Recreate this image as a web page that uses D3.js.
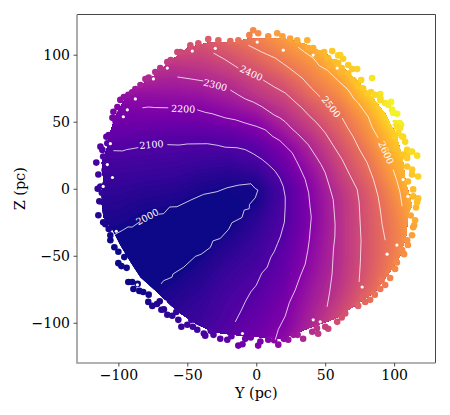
<!DOCTYPE html>
<html>
<head>
<meta charset="utf-8">
<script src="https://cdn.jsdelivr.net/npm/d3@7"></script>
<style>
  body { margin: 0; background: #fff; }
  text { font-family: "DejaVu Serif", serif; }
</style>
</head>
<body>
<script>
// distance (pc): columns are Y, rows are Z
const gridY = [-120, -100, -80, -60, -40, -20, 0, 20, 40, 60, 80, 100, 120];
const gridZ = [120, 110, 100, 90, 80, 70, 60, 50, 40, 30, 20, 10, 0, -10, -20, -30, -40, -50, -60, -70, -80, -90, -100, -110, -120];
const gridValues = [
  2400, 2400, 2420, 2450, 2480, 2520, 2570, 2640, 2700, 2750, 2770, 2790, 2800,
  2380, 2390, 2400, 2420, 2430, 2475, 2530, 2590, 2650, 2730, 2760, 2790, 2800,
  2360, 2370, 2375, 2380, 2385, 2425, 2480, 2545, 2610, 2710, 2750, 2790, 2800,
  2330, 2330, 2330, 2325, 2340, 2375, 2430, 2500, 2565, 2660, 2740, 2790, 2800,
  2280, 2285, 2290, 2280, 2295, 2325, 2380, 2440, 2530, 2605, 2730, 2790, 2800,
  2230, 2235, 2235, 2240, 2250, 2280, 2340, 2390, 2485, 2565, 2690, 2790, 2800,
  2190, 2190, 2200, 2200, 2205, 2235, 2275, 2345, 2430, 2515, 2640, 2780, 2800,
  2160, 2165, 2165, 2160, 2165, 2190, 2215, 2300, 2385, 2480, 2595, 2750, 2800,
  2130, 2135, 2125, 2120, 2120, 2130, 2170, 2245, 2340, 2445, 2565, 2700, 2780,
  2100, 2103, 2097, 2095, 2090, 2095, 2115, 2190, 2300, 2410, 2530, 2670, 2760,
  2080, 2080, 2075, 2070, 2060, 2055, 2080, 2160, 2265, 2385, 2500, 2635, 2740,
  2060, 2060, 2055, 2050, 2035, 2025, 2040, 2125, 2235, 2360, 2475, 2610, 2720,
  2045, 2045, 2035, 2030, 2010, 2000, 2005, 2095, 2215, 2335, 2445, 2580, 2710,
  2030, 2030, 2015, 2010, 1990, 1985, 2005, 2095, 2205, 2320, 2430, 2555, 2690,
  2020, 2015, 2000, 1990, 1975, 1985, 2030, 2098, 2200, 2320, 2425, 2540, 2670,
  2005, 2003, 1980, 1970, 1975, 1998, 2045, 2105, 2205, 2320, 2425, 2530, 2650,
  1995, 1992, 1965, 1960, 1985, 2020, 2060, 2115, 2215, 2320, 2425, 2530, 2640,
  1990, 1985, 1960, 1965, 2000, 2040, 2070, 2130, 2225, 2320, 2425, 2535, 2640,
  1990, 1985, 1970, 1985, 2018, 2058, 2085, 2140, 2235, 2325, 2430, 2550, 2650,
  1990, 1990, 1985, 2005, 2032, 2070, 2100, 2155, 2250, 2335, 2445, 2560, 2660,
  2000, 2000, 2000, 2020, 2045, 2085, 2115, 2170, 2265, 2350, 2470, 2580, 2670,
  2010, 2010, 2015, 2035, 2055, 2095, 2130, 2185, 2280, 2380, 2490, 2600, 2680,
  2020, 2025, 2030, 2050, 2065, 2105, 2145, 2195, 2295, 2410, 2520, 2620, 2690,
  2030, 2040, 2045, 2060, 2080, 2120, 2165, 2215, 2320, 2440, 2540, 2640, 2700,
  2040, 2050, 2060, 2075, 2095, 2140, 2185, 2240, 2345, 2460, 2560, 2650, 2710
];

// the solid part of the cloud
const cloudOutline = [
  [-6, 112], [6.5, 112], [21, 112], [35.5, 108], [50, 101], [62, 91], [73, 81], [84, 68.5], [93.5, 56], [100.7, 42], [106, 24],
  [108, 7], [113, -13], [110, -19], [109, -34], [104, -51], [95.6, -64], [86, -77], [72, -87], [57, -97], [35.5, -105],
  [19, -112], [-1, -110.5], [-17, -109], [-31, -107], [-43, -101], [-55, -93], [-62, -87], [-72, -77], [-84, -66],
  [-91, -55], [-98.6, -42], [-104, -31], [-111, -21], [-112, -6], [-111, 7], [-112, 19.5], [-108, 31], [-106, 42], [-102, 54],
  [-97, 64], [-86, 75], [-72, 86], [-60, 97], [-50, 105], [-34.8, 109], [-17, 109]
];

// stars standing out around the rim
const rimStars = [
  [-34.8, 111.6], [-27.5, 110.8], [-42, 108.6], [-47.8, 107.1], [-57.2, 102], [-64.5, 94.5], [-73.2, 87.1], [-80.4, 81.9],
  [-87.7, 74.4], [-92.8, 70], [-98.6, 66.3], [-103.6, 57.4], [-104.3, 52.9], [-108.7, 38.8], [-113, 31.4], [-116, 19.5],
  [-114.5, 10.6], [-115, 0], [-113.8, -9.4], [-114.5, -19.8], [-109.4, -26.5], [-105.8, -34.7], [-105.8, -38.4],
  [-102.9, -43.6], [-95.7, -51], [-100, -55.5], [-97.8, -57.7], [-92.8, -69.6], [-89.1, -74.8], [-84.8, -76.2],
  [-78.3, -84.4], [-75.4, -87.4], [-68.8, -90.3], [-64.5, -94], [-60.9, -94.8], [-56.5, -97.8], [-54.3, -103],
  [-47.1, -97.8], [-42.8, -105.2], [-37, -109.6], [-26.1, -111.9], [-21, -112.6], [-13, -117], [-8, -112], [1.4, -117],
  [8.7, -112.6], [16, -116.3], [23.2, -112.6], [34, -111.9], [44.9, -108.2], [52.2, -104.5], [58.7, -99.3], [73.9, -87.4],
  [82.6, -82.9], [89.9, -74.8], [97.1, -66.6], [100.7, -59.9], [107.2, -48.8], [102.9, -42.1], [113, -34.7], [114.5, -27.2],
  [115.2, -23.5], [115.9, -13.9], [117.4, -7.2], [113.8, -0.5], [117.4, 9.1], [113, 10.6], [116.7, 24.7], [110.1, 26.9],
  [108, 35.1], [106.5, 38.8], [105, 47.7], [102.2, 55.9], [97.8, 64.8], [89.9, 70.7], [83.3, 72.2], [84, 82.6], [76.1, 81.1],
  [73.2, 89.3], [69.6, 89.3], [60.9, 99.7], [55.1, 102.7], [49.3, 102], [37, 110.8], [29.7, 110.8], [15.2, 116], [8.7, 113.8],
  [-2.2, 118.3], [-5, 114.6], [-13, 110.8], [-18.8, 110.1],
  [59.4, 93.8], [52, 97.5], [45, 101], [37.7, 105], [24.6, 112], [19, 113.8], [1.4, 116], [73.9, 76.7], [81, 71], [90, 67.6],
  [93.5, 64], [98.5, 59], [100.7, 49], [104.3, 45.4], [103, 41.6], [108, 24], [109.4, 16.6], [113, 14.3], [110, 5.4],
  [113.8, -5.7], [116.7, -10], [-111, 24], [-111.6, 29], [-107, 40], [-102, 50], [-100.7, 61], [-96, 68.5], [-90, 72],
  [-84, 77.4], [-78, 83], [-69.6, 90], [-62, 96], [-55, 102], [-113, 1.7], [-111, -10], [-111, -25], [-90, -69.6],
  [-82, -77], [-72, -86], [-67, -90], [-50, -101.5], [-38, -108], [-31, -109], [-10, -116], [3, -114], [20, -112],
  [30, -109], [40.6, -106.7], [50, -103], [64.5, -93], [79, -84.4], [86, -79], [93.5, -71.8], [105.8, -45.8],
  [109.4, -38.4], [113.8, -28.7],
  [59.4, 99.5], [63, 97], [66.7, 92.3], [62, 90], [66.7, 86], [70.5, 81], [77.5, 75], [86, 70], [90, 66], [95.7, 62.6],
  [99.5, 56.6], [104, 49], [102, 46], [105.8, 39], [100.7, 39], [109.4, 29], [106.5, 25.5], [113, 27.7], [109.4, 23],
  [41.3, 104.9], [46.4, 101], [44, 98], [52, 97.5], [57, 94.5], [53.6, 92], [61, 87],
  [-108, 34], [-110, 14], [-112, -3], [-107, -30], [-100, -47], [-94, -59], [-86, -71], [-78, -79], [-70, -84], [-58, -92],
  [-46, -103], [-33, -106], [-18, -110], [-4, -111], [13, -113], [27, -109], [44, -104], [62, -96], [77, -81], [91, -68],
  [102, -55], [110, -42], [112, -20]
];

// white gaps between the rim stars
const rimGaps = [
  [-96.4, 53.7], [-93.5, 58.9], [-87.7, 67], [-74.6, 81.9], [-64.5, 90], [-29.7, 104.8], [-46.4, 102.7], [-105.8, 33.6],
  [-108, 18], [-104.3, 8.4], [-111, 1.7], [-101.5, -31.7], [-86.2, -71.7], [-74.6, -79.2], [-66, -84.4], [0.7, 109.4],
  [19.6, 103.4], [41.3, 99.7], [58.7, 90], [98.5, 49], [106.5, 6.9], [110, -5.7], [102, -42], [94.9, -48.8], [76.8, -73.3],
  [46.4, -99.3], [41.3, -97.8], [-10, -108]
];

// contour lines, null where a label breaks the line
const contour2000 = [
  [-103.6, -34.7], [-97, -31], [-93, -28.5], [-90, -28.6], [-85, -25], null, [-70.8, -19], [-67.2, -18.6], [-62.8, -13.6], [-57.5, -13.4],
  [-46.6, -8], [-38.2, -4.2], [-28.5, -2.2], [-21.2, 0.7], [-12.8, 2.7], [-3.9, 3.7], [-0.7, 0.2], [1.2, -1], [-0.7, -6.7], [-4.9, -11.7],
  [-5.1, -14.9], [-8.7, -15.9], [-10.4, -21.5], [-17.6, -25.3], [-20, -30.2], [-26.1, -37.1], [-31.4, -38.9], [-33.3, -43.8],
  [-39.9, -48.8], [-44.2, -50.5], [-52.7, -58.6], [-60.4, -63.6], [-61.1, -66], [-67.2, -68.6], [-69, -71]
];
const contour2100 = [
  [-103.6, 28.4], [-97, 28.2], [-94, 29.2], [-85.5, 30.7], null, [-64.5, 32.9], [-56, 32.6], [-50, 33.4], [-35.5, 33.6], [-28, 32.4], [-22.5, 31],
  [-14, 30.6], [-8, 29.2], [-2, 26], [4.3, 21.8], [9, 17.8], [13.8, 13], [17, 8], [19.6, 1.7], [21, -6], [21, -13], [20.4, -25], [17.4, -36],
  [15.4, -41], [13, -47], [10.6, -51], [8, -58.4], [4, -63], [0, -72], [-4, -77], [-8, -84.4], [-11, -91], [-15.2, -99.3]
];
const contour2200 = [
  [-82.6, 60.4], [-78, 61], [-74, 60.6], [-63.8, 60.4], null, [-42.8, 58.9], [-37, 57], [-32, 56], [-22.5, 52.9], [-15, 51.4], [-8, 49], [0, 46.6], [6.5, 44],
  [12, 39], [17, 36], [22, 31], [26, 26.9], [29, 21], [31, 17], [35.5, 6.9], [38, -3], [39, -13], [39.9, -21.2], [38.5, -38], [37.4, -46], [35.5, -56.2],
  [32, -65], [28.3, -75.5], [24, -85], [21, -95], [16, -105], [13.8, -112.6]
];
const contour2300 = [
  [-57.2, 83.4], [-48, 82], [-38.4, 80.4], null, [-18.8, 73.7], [-13, 70], [-8, 67], [-2, 64.6], [4.3, 61.1], [13, 55], [17, 53], [21, 50], [26, 44.6], [30, 41],
  [37.7, 32.9], [44, 23], [47, 18], [50, 12], [53, 2], [55.8, -8], [56.6, -18], [57.2, -26.5], [57, -36], [56, -45], [55, -63.6], [53.4, -76], [51.4, -88.1]
];
const contour2400 = [
  [-31, 101.2], [-23.2, 96.7], [-13, 90], null, [5, 81.1], [13, 76], [21, 71.5], [29, 64], [33, 60.4], [37.7, 55.2], [44, 49], [50, 41.8], [56, 32], [62.3, 21.8],
  [68, 10], [73.2, -0.5], [74.6, -10], [75, -18], [76, -38.4], [75.5, -55], [74.6, -69.6]
];
const contour2500 = [
  [-5.8, 107.1], [4, 102], [13.8, 97.5], [24, 90], [33.3, 82.6], [40, 75], [46.4, 68.5], null, [62.3, 52.9], [66, 46], [70.3, 38.8], [75, 29], [80.4, 19.5],
  [85, 7], [88.4, -5.7], [90, -16], [91.3, -26.5], [93.5, -38.4]
];
const contour2600 = [
  [30.4, 105.6], [35, 102], [41.3, 97.5], [46, 91.6], [51.4, 88.6], [59, 81], [66.7, 73.7], [71, 67], [74, 64], [81.2, 53.7], [84, 46], [88.4, 38], null, [99.3, 14.3],
  [102, 6], [104.3, -2.9], [105.8, -13]
];
const contourLines = [contour2000, contour2100, contour2200, contour2300, contour2400, contour2500, contour2600];

const contourLevels = [2000, 2100, 2200, 2300, 2400, 2500, 2600];
const labelY = [-79, -76, -53, -29.7, -3.6, 54.3, 94.2];
const labelZ = [-21, 32.9, 59.6, 77.4, 86.3, 61.1, 27];
const labelAngle = [-28, -5, 3, 15, 25, 52, 65];

const yTicks = [-100, -50, 0, 50, 100];
const zTicks = [-100, -50, 0, 50, 100];

const width = 450;
const height = 415;
const margin = { top: 14.5, right: 14.5, bottom: 52, left: 77 };

const x = d3.scaleLinear().domain([-130, 130]).range([margin.left, width - margin.right]);
const y = d3.scaleLinear().domain([-130, 130]).range([height - margin.bottom, margin.top]);
const color = d3.scaleSequential([1990, 2780], d3.interpolatePlasma).clamp(true);

const svg = d3.select('body').append('svg')
  .attr('width', width)
  .attr('height', height);

svg.append('clipPath').attr('id', 'cloud')
  .append('path')
  .attr('d', d3.line().x(d => x(d[0])).y(d => y(d[1])).curve(d3.curveLinearClosed)(cloudOutline));

// contours() places grid node i at i + 0.5
const gridStepY = gridY[1] - gridY[0];
const gridStepZ = gridZ[1] - gridZ[0];
const gridToScreen = d3.geoTransform({
  point(px, py) {
    this.stream.point(x(gridY[0] + (px - 0.5) * gridStepY), y(gridZ[0] + (py - 0.5) * gridStepZ));
  }
});
const bands = d3.contours()
  .size([gridY.length, gridZ.length])
  .smooth(true)
  .thresholds(d3.range(1950, 2810, 8))(gridValues);

svg.append('g')
  .attr('clip-path', 'url(#cloud)')
  .selectAll('path')
  .data(bands)
  .join('path')
  .attr('d', d3.geoPath(gridToScreen))
  .attr('fill', d => color(d.value));

// value under a rim star, from the four grid nodes around it
function gridValue(py, pz) {
  const i = Math.max(0, Math.min(gridY.length - 2, Math.floor((py - gridY[0]) / gridStepY)));
  const j = Math.max(0, Math.min(gridZ.length - 2, Math.floor((pz - gridZ[0]) / gridStepZ)));
  const u = (py - gridY[i]) / gridStepY;
  const v = (pz - gridZ[j]) / gridStepZ;
  const at = (a, b) => gridValues[b * gridY.length + a];
  return (1 - v) * ((1 - u) * at(i, j) + u * at(i + 1, j)) + v * ((1 - u) * at(i, j + 1) + u * at(i + 1, j + 1));
}

svg.append('g').selectAll('circle')
  .data(rimStars)
  .join('circle')
  .attr('cx', d => x(d[0]))
  .attr('cy', d => y(d[1]))
  .attr('r', 3.3)
  .attr('fill', d => color(gridValue(d[0], d[1])));

svg.append('g').selectAll('circle')
  .data(rimGaps)
  .join('circle')
  .attr('cx', d => x(d[0]))
  .attr('cy', d => y(d[1]))
  .attr('r', 1.6)
  .attr('fill', '#fff');

const line = d3.line()
  .defined(d => d !== null)
  .x(d => x(d[0]))
  .y(d => y(d[1]));

svg.append('g').selectAll('path')
  .data(contourLines)
  .join('path')
  .attr('d', line)
  .attr('fill', 'none')
  .attr('stroke', '#fff')
  .attr('stroke-opacity', 0.85)
  .attr('stroke-width', 0.9);

svg.append('g').selectAll('text')
  .data(contourLevels)
  .join('text')
  .attr('transform', (d, i) => `translate(${x(labelY[i])},${y(labelZ[i])}) rotate(${labelAngle[i]})`)
  .attr('text-anchor', 'middle')
  .attr('dy', '0.36em')
  .attr('font-size', 9.5)
  .attr('fill', '#fff')
  .text(d => d);

// frame: the bottom and left spines are heavier and grey in the original
const frame = svg.append('g').attr('fill', 'none');
frame.append('path')
  .attr('d', `M${x.range()[0]},${y.range()[1]}H${x.range()[1]}V${y.range()[0]}`)
  .attr('stroke', '#444')
  .attr('stroke-width', 1);
frame.append('path')
  .attr('d', `M${x.range()[0]},${y.range()[1]}V${y.range()[0]}H${x.range()[1]}`)
  .attr('stroke', '#999')
  .attr('stroke-width', 1.6);

const xAxis = svg.append('g')
  .attr('transform', `translate(0,${y.range()[0]})`)
  .call(d3.axisBottom(x).tickValues(yTicks).tickSize(3.5).tickPadding(3.5));
const yAxis = svg.append('g')
  .attr('transform', `translate(${x.range()[0]},0)`)
  .call(d3.axisLeft(y).tickValues(zTicks).tickSize(3.5).tickPadding(3.5));

[xAxis, yAxis].forEach(axis => {
  axis.select('.domain').remove();
  axis.selectAll('line').attr('stroke', '#222').attr('stroke-width', 0.8);
  axis.selectAll('text')
    .attr('font-family', '"DejaVu Serif", serif')
    .attr('font-size', 14)
    .attr('fill', '#000');
});

svg.append('text')
  .attr('x', x(0))
  .attr('y', 398)
  .attr('text-anchor', 'middle')
  .attr('font-size', 14.4)
  .attr('fill', '#000')
  .text('Y (pc)');

svg.append('text')
  .attr('transform', `translate(25,${y(0)}) rotate(-90)`)
  .attr('text-anchor', 'middle')
  .attr('font-size', 14.4)
  .attr('fill', '#000')
  .text('Z (pc)');
</script>
</body>
</html>
